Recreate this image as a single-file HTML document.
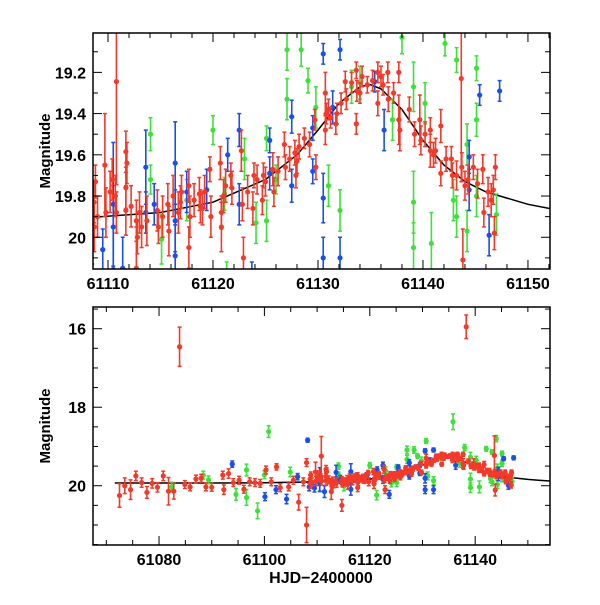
<!DOCTYPE html>
<html><head><meta charset="utf-8"><style>
body{margin:0;background:#fff;}
svg text{font-family:"Liberation Sans",sans-serif;font-weight:bold;fill:#000;}
</style></head><body>
<svg id="chart" width="600" height="600" xmlns="http://www.w3.org/2000/svg"></svg>
<script>
// ---- data ----
const redT=[61072.5,61073.5,61074.6,61075.6,61076.7,61077.7,61078.7,61079.7,61080.8,61081.8,61082.8,61083.9,61084.9,61085.9,61087,61088,61088.9,61090,61092.1,61092.3,61093.2,61094.1,61095.2,61096.1,61097.2,61098.2,61099.2,61100.3,61101.3,61102.3,61103,61104.6,61105.5,61106.5,61107.4,61108.0,61108.0,
61108.67,61108.7,61108.8,61109.7,61109.8,61110.8,61110.7,61110.8,61111.7,61111.7,61111.8,61111.7,61112.7,61112.8,61112.7,61113.7,61114.7,61114.8,61115.7,61115.8,61116.7,61116.9,61117.7,61117.8,61117.7,61118.7,61118.8,61119.7,61119.8,61120.7,61120.8,61120.8,61121.7,61121.8,61122.7,61122.8,61122.9,61123.8,61123.9,61124.7,61124.8,61125.7,61125.8,61126.8,61126.9,61127.8,61127.9,61128.7,61129.7,61129.8,61130.7,61130.7,61130.8,61131.7,61131.8,61132.6,61132.7,61133.65,61133.7,61133.65,61134.7,61135.7,61135.7,61136.65,61136.7,61137.7,61137.7,61137.8,61138.3,61139.7,61139.8,61140.7,61140.7,61141.7,61141.7,61142.7,61142.8,61143.65,61143.7,61143.8,61144.8,61145.7,61145.8,61146.7,61146.8,61146.9,61114.7,
61109.0,61110.2,61112.2,61113.2,61115.2,61116.2,61118.2,61119.2,61121.2,61123.3,61124.2,61126.2,61127.3,61128.2,61129.2,61131.2,61132.2,61133.2,61134.2,61135.2,61136.2,61137.2,61138.7,61139.2,61140.2,61141.2,61142.2,61143.2,61144.3,61145.2,61146.2,61146.5,61110.4,61113.0,61117.0,61119.0,61121.0,61125.0,61128.0,61131.0,61134.0,61136.0,61141.0,61144.0];
const redM=[20.25,20.0,20.1,19.75,19.92,20.17,19.94,20.04,19.75,20.14,20.14,16.46,19.97,20.03,19.83,19.81,20.03,20.04,19.73,20.1,19.69,19.92,19.86,20.09,19.9,19.92,19.94,19.6,19.9,19.52,20.05,20.03,19.86,20.42,19.9,19.41,21.0,
19.83,19.95,19.73,19.65,19.88,19.245,19.8,19.88,19.585,19.76,19.64,19.87,19.92,20.0,20.15,19.92,19.87,19.95,19.84,19.97,19.88,19.83,19.75,19.9,20.05,19.79,19.85,19.67,19.9,19.64,19.88,19.95,19.7,19.76,19.58,19.84,20.1,19.86,19.7,19.82,19.7,19.67,19.78,19.55,19.66,19.59,19.7,19.52,19.43,19.66,19.3,19.48,19.4,19.45,19.4,19.245,19.33,19.19,19.29,19.45,19.26,19.2,19.35,19.2,19.33,19.2,19.43,19.48,15.95,19.43,19.53,19.58,19.48,19.46,19.69,19.62,19.7,19.23,19.66,20.11,19.66,19.67,19.88,19.77,19.98,19.66,20.5,
19.9,19.78,19.85,19.95,19.9,19.8,19.82,19.78,19.75,19.78,19.72,19.68,19.62,19.56,19.55,19.42,19.35,19.25,19.22,19.24,19.26,19.3,19.38,19.5,19.5,19.58,19.62,19.7,19.72,19.74,19.78,19.82,19.72,19.88,19.78,19.86,19.8,19.73,19.63,19.38,19.3,19.22,19.6,19.75];
const redE=[0.3,0.2,0.25,0.12,0.12,0.15,0.12,0.12,0.12,0.35,0.2,0.5,0.1,0.1,0.1,0.1,0.1,0.1,0.1,0.12,0.12,0.1,0.1,0.1,0.1,0.1,0.1,0.1,0.1,0.08,0.1,0.1,0.1,0.2,0.1,0.1,0.45,
0.1,0.12,0.08,0.25,0.12,0.5,0.1,0.1,0.1,0.1,0.1,0.12,0.1,0.08,0.2,0.12,0.1,0.08,0.1,0.12,0.1,0.08,0.08,0.1,0.1,0.08,0.08,0.06,0.1,0.08,0.08,0.12,0.06,0.08,0.1,0.08,0.1,0.08,0.06,0.07,0.06,0.08,0.07,0.06,0.06,0.06,0.06,0.05,0.05,0.06,0.1,0.07,0.05,0.05,0.05,0.05,0.05,0.04,0.05,0.05,0.04,0.05,0.06,0.05,0.06,0.05,0.12,0.1,0.3,0.12,0.07,0.08,0.06,0.08,0.06,0.06,0.06,0.5,0.07,0.15,0.06,0.07,0.07,0.07,0.08,0.06,0.15,
0.1,0.1,0.1,0.1,0.1,0.1,0.08,0.08,0.08,0.08,0.07,0.07,0.06,0.06,0.06,0.05,0.05,0.05,0.05,0.05,0.05,0.05,0.06,0.06,0.06,0.06,0.06,0.07,0.07,0.07,0.07,0.08,0.1,0.1,0.08,0.08,0.08,0.07,0.06,0.05,0.05,0.05,0.06,0.07];
const greenT=[61082.4,61088.4,61089.4,61094.6,61096.6,61096.6,61098.7,61100.8,61100,61104.9,61114.05,61114.05,61115.1,61117.5,61120,61121.1,61121.3,61123,61124.1,61125.1,61125.1,61126,61127.05,61127.05,61128.4,61129.05,61129.8,61130.7,61131,61132.1,61133.2,61134,61135.8,61137.1,61138,61139.1,61139.1,61139.1,61140.2,61140.8,61142.1,61142.9,61143.2,61143.2,61144,61144.2,61144.2,61145.1,61145.1,61145.1,61147];
const greenM=[20.03,19.73,19.85,20.22,20.3,19.6,20.64,18.62,19.72,19.65,19.5,19.72,20.01,19.82,19.48,19.79,20.24,19.62,19.93,19.52,19.92,19.72,19.09,19.33,19.09,19.24,19.37,18.86,19.75,19.87,19.27,19.25,18.37,19.43,19.03,19.27,19.83,20.05,19.35,20.03,19.06,19.82,19.14,19.9,18.8,19.55,19.97,19.18,19.43,19.8,19.89];
const greenE=[0.12,0.1,0.1,0.15,0.2,0.15,0.2,0.15,0.1,0.12,0.08,0.07,0.12,0.1,0.07,0.08,0.12,0.1,0.1,0.06,0.1,0.07,0.1,0.1,0.08,0.06,0.1,0.06,0.1,0.1,0.08,0.08,0.2,0.1,0.08,0.12,0.15,0.12,0.1,0.15,0.06,0.1,0.06,0.1,0.08,0.1,0.1,0.06,0.08,0.1,0.1];
const blueT=[61093.9,61100.1,61102.2,61104.2,61106.3,61108.2,61108.5,61109.5,61110.5,61110.5,61111.4,61113.6,61113.6,61114.4,61116.4,61116.4,61116.4,61117.5,61119.4,61121.4,61122.5,61122.5,61123.7,61125.4,61125.4,61127.5,61127.5,61129.5,61129.5,61130.5,61130.5,61130.5,61131.4,61132.1,61132.1,61135.4,61136.3,61144.4,61144.4,61145.4,61146.3,61147.3];
const blueM=[19.45,20.28,20.1,20.34,19.77,18.84,20.03,20.06,19.84,19.95,20.15,19.66,19.88,19.84,19.64,19.92,20.09,19.78,19.77,19.6,19.48,19.84,20.22,19.53,19.69,19.415,19.75,19.68,19.47,19.11,19.81,20.1,19.37,19.09,20.1,19.245,19.48,19.61,19.77,19.31,19.99,19.29];
const blueE=[0.08,0.1,0.1,0.12,0.08,0.05,0.1,0.1,0.3,0.2,0.15,0.18,0.1,0.1,0.2,0.15,0.15,0.1,0.1,0.08,0.08,0.1,0.1,0.06,0.08,0.08,0.08,0.06,0.06,0.05,0.12,0.1,0.08,0.05,0.1,0.05,0.1,0.08,0.1,0.05,0.1,0.05];
const modelT=[61071.6,61090,61100,61108,61115,61120,61125,61128,61130,61132,61134,61135,61136,61138,61140,61142,61144,61146,61148,61150,61152,61154.2];
const modelM=[19.93,19.93,19.925,19.905,19.88,19.83,19.72,19.6,19.48,19.35,19.27,19.26,19.28,19.38,19.53,19.65,19.73,19.78,19.81,19.84,19.86,19.88];
const topXTicks=[61110,61120,61130,61140,61150];
const topYTicks=[19.2,19.4,19.6,19.8,20];
const topYLabels=["19.2","19.4","19.6","19.8","20"];
const botXTicks=[61080,61100,61120,61140];
const botYTicks=[16,18,20];

const NS="http://www.w3.org/2000/svg";
const svg=document.getElementById('chart');
function mk(tag,attrs,parent){const e=document.createElementNS(NS,tag);for(const k in attrs)e.setAttribute(k,attrs[k]);(parent||svg).appendChild(e);return e;}

function panel(p){
  const g=mk('g',{});
  
  
  const sx=v=>p.x0+(v-p.t0)/(p.t1-p.t0)*(p.x1-p.x0);
  const sy=v=>p.y0+(v-p.m0)/(p.m1-p.m0)*(p.y1-p.y0);
  const cid='clip'+p.name;
  const cp=mk('clipPath',{id:cid},g);mk('rect',{x:p.x0,y:p.y0,width:p.x1-p.x0,height:p.y1-p.y0},cp);
  const dg=mk('g',{'clip-path':'url(#'+cid+')'},g);
  const series=[[greenT,greenM,greenE,'#3ee03a','green'],[blueT,blueM,blueE,'#1a4fe8','blue'],[redT,redM,redE,'#f23a2a','red']];
  let d='';modelT.forEach((t,i)=>{d+=(i?'L':'M')+sx(t).toFixed(1)+' '+sy(modelM[i]).toFixed(1);});
  const ml=mk('path',{d:d,fill:'none',stroke:'#000','stroke-width':1.5},dg);
  
  
  series.forEach(s=>{
    const sg=mk('g',{},dg);
    
    
    s[0].forEach((t,i)=>{
      const x=sx(t),y=sy(s[1][i]),ya=sy(s[1][i]-s[2][i]),yb=sy(s[1][i]+s[2][i]);
      mk('line',{x1:x,x2:x,y1:ya,y2:yb,stroke:s[3],'stroke-width':1.6},sg);
      mk('line',{x1:x-2,x2:x+2,y1:ya,y2:ya,stroke:s[3],'stroke-width':1.5},sg);
      mk('line',{x1:x-2,x2:x+2,y1:yb,y2:yb,stroke:s[3],'stroke-width':1.5},sg);
      const c=mk('circle',{cx:x,cy:y,r:2.6,fill:s[3]},sg);
      
      
    });
  });
  mk('rect',{x:p.x0,y:p.y0,width:p.x1-p.x0,height:p.y1-p.y0,fill:'none',stroke:'#000','stroke-width':1.5},g);
  for(let v=Math.ceil(p.t0/p.xmin)*p.xmin;v<=p.t1;v+=p.xmin){
    const x=sx(v),maj=Math.abs(v/p.xmaj-Math.round(v/p.xmaj))<1e-6,L=maj?9:5;
    mk('line',{x1:x,x2:x,y1:p.y1,y2:p.y1-L,stroke:'#000','stroke-width':1},g);
    mk('line',{x1:x,x2:x,y1:p.y0,y2:p.y0+L,stroke:'#000','stroke-width':1},g);
  }
  p.xt.forEach(v=>{const t=mk('text',{x:sx(v),y:p.y1+20,'text-anchor':'middle','font-size':16},g);t.textContent=v;
    });
  for(let v=Math.ceil(p.m0/p.ymin-1e-6)*p.ymin;v<=p.m1+1e-6;v+=p.ymin){
    const y=sy(v),maj=Math.abs(v/p.ymaj-Math.round(v/p.ymaj))<1e-6,L=maj?9:5;
    mk('line',{x1:p.x0,x2:p.x0+L,y1:y,y2:y,stroke:'#000','stroke-width':1},g);
    mk('line',{x1:p.x1,x2:p.x1-L,y1:y,y2:y,stroke:'#000','stroke-width':1},g);
  }
  p.yt.forEach((v,i)=>{const t=mk('text',{x:p.x0-7,y:sy(v)+6,'text-anchor':'end','font-size':16},g);t.textContent=p.yl[i];
    });
  const yl=mk('text',{x:0,y:0,'text-anchor':'middle','font-size':15,transform:'translate('+(p.x0-43)+','+((p.y0+p.y1)/2)+') rotate(-90)'},g);
  yl.textContent='Magnitude';
  
  
}
panel({name:'top-panel',x0:93,x1:550,y0:33,y1:269,t0:61108.57,t1:61152.1,m0:19.009,m1:20.154,xmin:2,xmaj:10,ymin:0.1,ymaj:0.2,xt:topXTicks,yt:topYTicks,yl:topYLabels});
panel({name:'bottom-panel',x0:93,x1:550,y0:307,y1:545,t0:61067.47,t1:61154.2,m0:15.447,m1:21.51,xmin:5,xmaj:20,ymin:0.5,ymaj:2,xt:botXTicks,yt:botYTicks,yl:botYTicks.map(String)});
const xl=mk('text',{x:321,y:583,'text-anchor':'middle','font-size':16});
xl.textContent='HJD\u22122400000';


</script>
</body></html>
